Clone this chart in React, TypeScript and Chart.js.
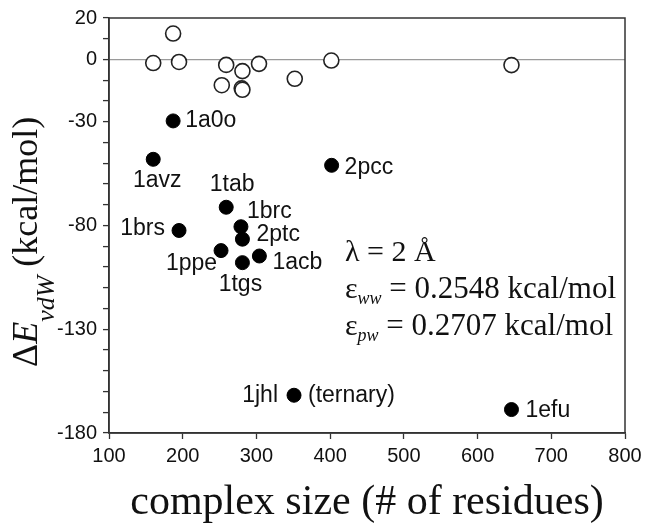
import React, { useEffect, useRef } from "react";
import { Chart, registerables } from "chart.js";

Chart.register(...registerables);

// ---- data ----
const openX = [160, 187, 195, 259, 253, 281, 280, 281, 303.5, 352, 401.6, 646];
const openY = [-1.7, 12.5, -1.2, -2.6, -12.4, -5.6, -13.9, -14.6, -2.1, -9.3, -0.5, -2.7];

const filledNames = ["1a0o", "1avz", "2pcc", "1tab", "1brs", "1brc", "2ptc", "1ppe", "1acb", "1tgs", "1jhl", "1efu"];
const filledX = [187, 160, 402, 259, 195, 279, 281, 252, 304, 281, 351, 646];
const filledY = [-29.6, -48.1, -51, -71.2, -82.4, -80.6, -86.6, -92.1, -94.7, -97.9, -161.8, -168.7];
const filledNotes = ["", "", "", "", "", "", "", "", "", "", "(ternary)", ""];

const xTicks = [100, 200, 300, 400, 500, 600, 700, 800];
const yTickLabels = [20, 0, -30, -80, -130, -180];
const yMinorStep = 10;

// label placement (styles: pixel offsets from point centre)
const labelPlacement: { dx: number; dy: number; align: CanvasTextAlign }[] = [
  { dx: 12, dy: 0, align: "left" },
  { dx: 4, dy: 21, align: "center" },
  { dx: 13, dy: 2, align: "left" },
  { dx: 6, dy: -23, align: "center" },
  { dx: -14, dy: -2, align: "right" },
  { dx: 6, dy: -15, align: "left" },
  { dx: 14, dy: -5, align: "left" },
  { dx: -4, dy: 13, align: "right" },
  { dx: 13, dy: 7, align: "left" },
  { dx: -2, dy: 22, align: "center" },
  { dx: -16, dy: 0, align: "right" },
  { dx: 14, dy: 1, align: "left" },
];

const SANS = "'Liberation Sans', Arial, sans-serif";
const SERIF = "'Liberation Serif', 'Times New Roman', serif";

const decorPlugin = {
  id: "decor",
  afterDatasetsDraw(chart: any) {
    const ctx = chart.ctx as CanvasRenderingContext2D;
    const { left, right, top, bottom } = chart.chartArea;
    const xs = chart.scales.x;
    const ys = chart.scales.y;
    ctx.save();
    // frame
    ctx.strokeStyle = "#333";
    ctx.lineWidth = 1.5;
    ctx.strokeRect(left, top, right - left, bottom - top);

    // point labels
    ctx.fillStyle = "#111";
    ctx.font = `23px ${SANS}`;
    ctx.textBaseline = "middle";
    filledNames.forEach((name, i) => {
      const px = xs.getPixelForValue(filledX[i]);
      const py = ys.getPixelForValue(filledY[i]);
      const p = labelPlacement[i];
      ctx.textAlign = p.align;
      ctx.fillText(name, px + p.dx, py + p.dy);
      if (filledNotes[i]) {
        ctx.textAlign = "left";
        ctx.fillText(filledNotes[i], px + 14, py + p.dy);
      }
    });

    // annotation block
    ctx.textAlign = "left";
    ctx.textBaseline = "alphabetic";
    const ax = 345;
    ctx.font = `30px ${SERIF}`;
    ctx.fillText("λ = 2 Å", ax, 261);
    const drawEps = (sub: string, rest: string, by: number) => {
      let x = ax;
      ctx.font = `30px ${SERIF}`;
      ctx.fillText("ε", x, by);
      x += ctx.measureText("ε").width;
      ctx.font = `italic 18px ${SERIF}`;
      ctx.fillText(sub, x, by + 6);
      x += ctx.measureText(sub).width;
      ctx.font = `31px ${SERIF}`;
      ctx.fillText(rest, x, by);
    };
    drawEps("ww", " = 0.2548 kcal/mol", 298);
    drawEps("pw", " = 0.2707 kcal/mol", 335);

    // x axis title
    ctx.font = `42px ${SERIF}`;
    ctx.textAlign = "center";
    ctx.fillText("complex size (# of residues)", (left + right) / 2, 514);

    // y axis title (rotated)
    ctx.translate(37, 367);
    ctx.rotate(-Math.PI / 2);
    ctx.textAlign = "left";
    let tx = 0;
    ctx.font = `36px ${SERIF}`;
    ctx.fillText("Δ", tx, 0);
    tx += ctx.measureText("Δ").width;
    ctx.font = `italic 36px ${SERIF}`;
    ctx.fillText("E", tx, 0);
    tx += ctx.measureText("E").width;
    ctx.font = `italic 26px ${SERIF}`;
    ctx.fillText("vdW", tx, 17);
    tx += ctx.measureText("vdW").width;
    ctx.font = `36px ${SERIF}`;
    ctx.fillText(" (kcal/mol)", tx, 0);
    ctx.restore();
  },
};

export default function App() {
  const ref = useRef<HTMLCanvasElement | null>(null);
  useEffect(() => {
    if (!ref.current) return;
    const yMin = yTickLabels[yTickLabels.length - 1];
    const yMax = yTickLabels[0];
    const chart = new Chart(ref.current, {
      type: "scatter",
      data: {
        datasets: [
          {
            label: "open",
            data: openX.map((x, i) => ({ x, y: openY[i] })),
            pointStyle: "circle",
            pointRadius: 7.5,
            pointBackgroundColor: "#fff",
            pointBorderColor: "#222",
            pointBorderWidth: 1.6,
          },
          {
            label: "filled",
            data: filledX.map((x, i) => ({ x, y: filledY[i] })),
            pointStyle: "circle",
            pointRadius: 7,
            pointBackgroundColor: "#000",
            pointBorderColor: "#000",
            pointBorderWidth: 1,
          },
        ],
      },
      options: {
        animation: false,
        responsive: false,
        devicePixelRatio: 1,
        layout: { padding: { top: 15, right: 27, left: 0, bottom: 0 } },
        plugins: { legend: { display: false }, tooltip: { enabled: false } },
        scales: {
          x: {
            type: "linear",
            min: xTicks[0],
            max: xTicks[xTicks.length - 1],
            afterBuildTicks: (s: any) => {
              s.ticks = xTicks.map((v) => ({ value: v }));
            },
            afterFit: (s: any) => {
              s.height = 95;
            },
            ticks: {
              color: "#111",
              font: { family: SANS, size: 20 },
              padding: 5,
              maxRotation: 0,
              autoSkip: false,
            },
            grid: {
              drawOnChartArea: false,
              drawTicks: true,
              tickLength: 6,
              tickColor: "#333",
              tickWidth: 1.3,
            },
            border: { display: true, color: "#333", width: 1.5 },
          },
          y: {
            type: "linear",
            min: yMin,
            max: yMax,
            afterBuildTicks: (s: any) => {
              const t: { value: number }[] = [];
              for (let v = yMin; v <= yMax; v += yMinorStep) t.push({ value: v });
              s.ticks = t;
            },
            afterFit: (s: any) => {
              s.width = 109;
            },
            ticks: {
              color: "#111",
              font: { family: SANS, size: 20 },
              padding: 6,
              autoSkip: false,
              callback: (v: any) => (yTickLabels.includes(Number(v)) ? String(v) : ""),
            },
            grid: {
              drawOnChartArea: true,
              drawTicks: true,
              tickLength: 6,
              tickColor: "#333",
              tickWidth: 1.3,
              color: (c: any) => (c.tick && c.tick.value === 0 ? "#9a9a9a" : "rgba(0,0,0,0)"),
              lineWidth: 1.2,
            },
            border: { display: true, color: "#333", width: 1.5 },
          },
        },
      },
      plugins: [decorPlugin],
    });
    return () => chart.destroy();
  }, []);
  return (
    <div style={{ position: "absolute", left: 0, top: 0, width: 652, height: 528, background: "#fff" }}>
      <canvas ref={ref} width={652} height={528} />
    </div>
  );
}
